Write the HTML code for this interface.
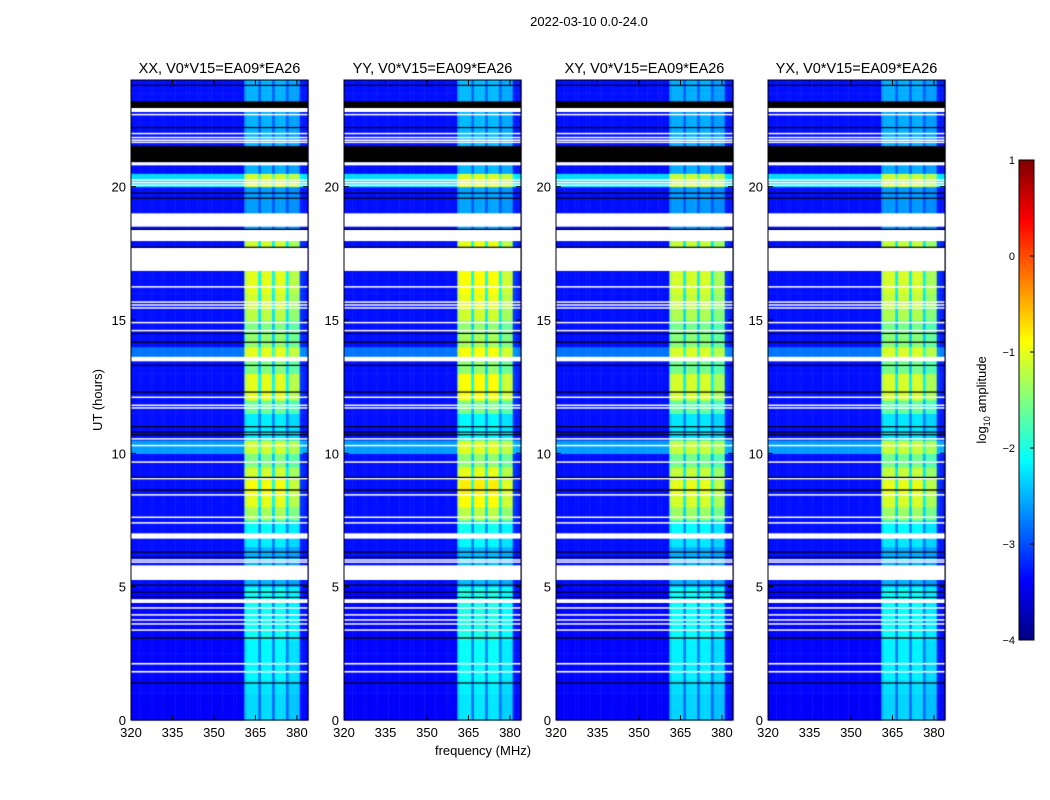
<!DOCTYPE html>
<html><head><meta charset="utf-8"><style>
body{margin:0;background:#fff;width:1050px;height:800px;overflow:hidden;font-family:"Liberation Sans",sans-serif}
#hm{position:absolute;left:0;top:0}
#ov{position:absolute;left:0;top:0}
</style></head><body>
<canvas id="hm" width="1050" height="800"></canvas>
<svg id="ov" width="1050" height="800"></svg>
<script>
const panelTitles=["XX, V0*V15=EA09*EA26","YY, V0*V15=EA09*EA26","XY, V0*V15=EA09*EA26","YX, V0*V15=EA09*EA26"];
const panelGain=[1.0,1.05,0.97,0.97];
const xTicks=[320,335,350,365,380];
const yTicks=[0,5,10,15,20];
const cbTicks=[1,0,-1,-2,-3,-4];
// RFI strength per half hour (log10 above background)
const rfiLevel=[1.1,1.1,1.1,1.2,1.2,1.2,1.3,1.3,1.3,1.3,0.8,0.8,0.8,1.1,1.2,2.0,2.3,2.4,2.2,1.8,1.5,1.1,1.1,1.7,2.3,2.3,1.8,1.8,1.9,1.8,2.1,2.2,2.3,2.3,1.2,2.2,0.7,0.7,0.7,0.7,1.2,0.8,0.8,0.8,0.8,0.8,0.8,0.8];
// background log10 amplitude per half hour
const bgLevel=[-3.4,-3.4,-3.35,-3.35,-3.35,-3.35,-3.35,-3.35,-3.35,-3.35,-3.3,-3.3,-3.3,-3.3,-3.3,-3.3,-3.3,-3.3,-3.3,-3.3,-2.6,-3.3,-3.3,-3.3,-3.3,-3.3,-3.3,-2.8,-3.3,-3.3,-3.3,-3.3,-3.3,-3.3,-3.3,-3.3,-3.3,-3.3,-3.3,-3.3,-2.3,-3.3,-3.3,-3.3,-3.3,-3.3,-3.3,-3.3];
// frequency profile per 1 MHz bin 320..383
const freqProfile=[0,0,0,0,0,0,0,0,0,0,0,0,0,0,0,0,0,0,0,0,0,0,0,0,0,0,0,0,0,0,0,0,0,0,0,0,0,0,0,0,0,0.9,1,1,1,1,0.5,1,1,1,1,0.5,1,1,1,1,0.5,0.9,0.9,0.9,0.9,0.1,0.05,0];
const whiteFlags=[[1.78,1.84],[2.08,2.14],[3.35,3.40],[3.58,3.63],[3.73,3.78],[3.92,3.97],[4.18,4.23],[4.39,4.53],[5.25,5.8],[5.9,5.95],[5.98,6.03],[6.8,7.0],[7.37,7.42],[7.58,7.63],[8.42,8.47],[9.03,9.08],[9.65,9.70],[10.27,10.32],[10.52,10.57],[11.68,11.73],[11.78,11.83],[12.08,12.13],[13.45,13.62],[14.58,14.63],[14.88,14.93],[15.43,15.48],[15.54,15.59],[15.65,15.7],[16.22,16.27],[16.84,17.7],[17.96,18.4],[18.5,19.0],[20.05,20.08],[20.15,20.18],[20.25,20.28],[20.8,20.92],[21.65,21.69],[21.73,21.77],[21.83,21.87],[21.98,22.02],[22.7,22.73],[22.8,23.0]];
const blackFlags=[[1.37,1.41],[3.05,3.1],[4.58,4.62],[4.78,4.82],[5.04,5.08],[6.08,6.12],[6.28,6.32],[8.6,8.65],[9.08,9.12],[10.68,10.72],[10.78,10.82],[10.98,11.02],[12.28,12.32],[13.28,13.32],[14.15,14.19],[14.48,14.52],[17.71,17.75],[18.38,18.42],[19.55,19.59],[19.74,19.78],[20.92,21.52],[22.2,22.24],[22.95,23.2],[23.78,23.82]];

const panelX=[131,344,556,768], PW=177, PT=80, PB=720;
const F0=320,F1=384,T0=0,T1=24;
function xs(p,f){return panelX[p]+(f-F0)/(F1-F0)*PW;}
function ys(t){return PB-(t-T0)/(T1-T0)*(PB-PT);}
function jet(t){t=Math.max(0,Math.min(1,t));
 const r=Math.max(0,Math.min(1,1.5-Math.abs(4*t-3))),g=Math.max(0,Math.min(1,1.5-Math.abs(4*t-2))),b=Math.max(0,Math.min(1,1.5-Math.abs(4*t-1)));
 return `rgb(${Math.round(r*255)},${Math.round(g*255)},${Math.round(b*255)})`;}
function col(v){return jet((v+4)/5);}

const ctx=document.getElementById('hm').getContext('2d');
for(let p=0;p<4;p++){
 for(let i=0;i<rfiLevel.length;i++){
  const t0=i*0.5,t1=t0+0.5;
  for(let j=0;j<freqProfile.length;j++){
   const v=bgLevel[i]+rfiLevel[i]*panelGain[p]*freqProfile[j];
   ctx.fillStyle=col(v);
   const x0=xs(p,F0+j),x1=xs(p,F0+j+1);
   ctx.fillRect(x0,ys(t1),x1-x0+0.5,ys(t0)-ys(t1)+0.5);
  }
 }
 ctx.fillStyle='#fff';
 whiteFlags.forEach(w=>{ctx.fillRect(xs(p,F0),ys(w[1]),PW,Math.max(1.5,ys(w[0])-ys(w[1])));});
 ctx.fillStyle='#000';
 blackFlags.forEach(w=>{ctx.fillRect(xs(p,F0),ys(w[1]),PW,Math.max(1.2,ys(w[0])-ys(w[1])));});
}
// colorbar
const cbX=1019,cbW=15,cbT=160,cbB=640;
for(let y=cbT;y<cbB;y++){ctx.fillStyle=jet(1-(y-cbT)/(cbB-cbT));ctx.fillRect(cbX,y,cbW,1);}

const svg=document.getElementById('ov');const NS='http://www.w3.org/2000/svg';
function el(tag,attrs,txt){const e=document.createElementNS(NS,tag);for(const k in attrs)e.setAttribute(k,attrs[k]);if(txt!==undefined)e.textContent=txt;svg.appendChild(e);return e;}
let e=el('text',{x:589,y:26,'text-anchor':'middle','font-size':13},'2022-03-10 0.0-24.0');


for(let p=0;p<4;p++){
 let f=el('rect',{x:panelX[p],y:PT,width:PW,height:PB-PT,fill:'none',stroke:'#000','stroke-width':1});
 
 
 let t=el('text',{x:panelX[p]+PW/2,y:73,'text-anchor':'middle','font-size':14.5},panelTitles[p]);
 
 
 xTicks.forEach(v=>{const x=xs(p,v);
  el('line',{x1:x,x2:x,y1:PB,y2:PB-5,stroke:'#000'});el('line',{x1:x,x2:x,y1:PT,y2:PT+5,stroke:'#000'});
  let l=el('text',{x:x,y:PB+17,'text-anchor':'middle','font-size':13},String(v));
  
  });
 yTicks.forEach(v=>{const y=ys(v);
  el('line',{x1:panelX[p],x2:panelX[p]+5,y1:y,y2:y,stroke:'#000'});el('line',{x1:panelX[p]+PW,x2:panelX[p]+PW-5,y1:y,y2:y,stroke:'#000'});
  let l=el('text',{x:panelX[p]-5,y:y+5,'text-anchor':'end','font-size':13},String(v));
  
  });
}
e=el('text',{x:0,y:0,'text-anchor':'middle','font-size':13,transform:'translate(102,400) rotate(-90)'},'UT (hours)');


e=el('text',{x:483,y:755,'text-anchor':'middle','font-size':13},'frequency (MHz)');


e=el('rect',{x:cbX,y:cbT,width:cbW,height:cbB-cbT,fill:'none',stroke:'#000'});


cbTicks.forEach(v=>{const y=cbT+(1-v)/5*(cbB-cbT);
 el('line',{x1:cbX+cbW-4,x2:cbX+cbW,y1:y,y2:y,stroke:'#000'});
 let l=el('text',{x:cbX-4,y:y+4,'text-anchor':'end','font-size':11},v<0?'\u2212'+(-v):String(v));
 
 });
e=el('text',{x:0,y:0,'text-anchor':'middle','font-size':13,transform:'translate(986,400) rotate(-90)'});
e.innerHTML='log<tspan font-size="9" dy="4">10</tspan><tspan dy="-4"> amplitude</tspan>';


</script>
</body></html>
